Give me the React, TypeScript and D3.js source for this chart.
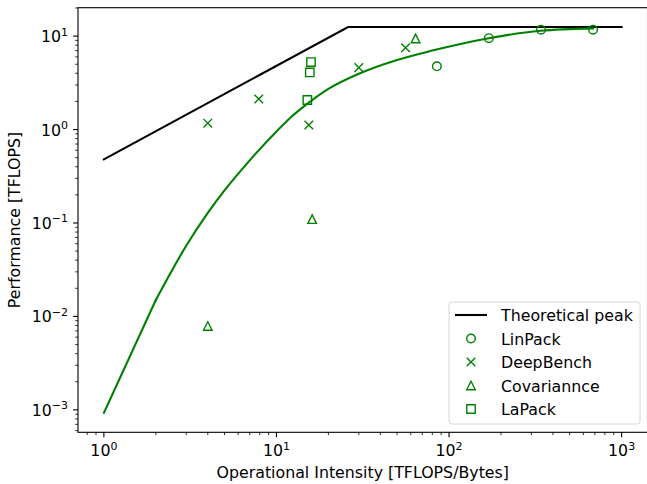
import { useEffect, useRef } from 'react';
import * as d3 from 'd3';

// roofline (theoretical peak)
const roofX = [1, 26, 1000];
const roofY = [0.48, 12.5, 12.5];

// fitted green curve
const curveX = [1, 2, 3, 4, 5, 7, 10, 12, 15, 20, 30, 50, 80, 170, 340, 683];
const curveY = [0.00093, 0.015, 0.057, 0.128, 0.223, 0.468, 0.955, 1.33, 1.87, 2.72, 3.95, 5.55, 7.0, 9.5, 11.4, 12.1];

const linpackX = [85, 170, 341, 683];
const linpackY = [4.75, 9.5, 11.7, 11.7];

const deepbenchX = [4, 7.9, 15.4, 30, 56];
const deepbenchY = [1.17, 2.12, 1.12, 4.6, 7.5];

const covarianceX = [4, 16.1, 64];
const covarianceY = [0.0079, 0.11, 9.45];

const lapackX = [15.85, 15.6, 15.1];
const lapackY = [5.27, 4.09, 2.07];

const legendLabels = ['Theoretical peak', 'LinPack', 'DeepBench', 'Covariannce', 'LaPack'];
const xTickValues = [1, 10, 100, 1000];
const yTickValues = [0.001, 0.01, 0.1, 1, 10];

const WIDTH = 647, HEIGHT = 484;
const margin = { left: 78, top: 7.7, right: 647.5, bottom: 432.3 };
const GREEN = '#008000';
const FONT = '"DejaVu Sans", sans-serif';
const FS = '15.8px';

function markerPath(kind: string, cx: number, cy: number) {
    const s = 4.3;
    if (kind === 'x') {
        return `M${cx - s},${cy - s}L${cx + s},${cy + s}M${cx - s},${cy + s}L${cx + s},${cy - s}`;
    }
    if (kind === '^') {
        return `M${cx},${cy - s}L${cx - s},${cy + s}L${cx + s},${cy + s}Z`;
    }
    if (kind === 's') {
        const h = 4.2;
        return `M${cx - h},${cy - h}H${cx + h}V${cy + h}H${cx - h}Z`;
    }
    return '';
}

function draw_markers(g, kind, xs, ys, x, y) {
    const pts = xs.map((v, i) => [x(v), y(ys[i])]);
    if (kind === 'o') {
        g.append('g').selectAll('circle').data(pts).enter().append('circle')
            .attr('cx', d => d[0]).attr('cy', d => d[1]).attr('r', 4.3)
            .attr('fill', 'none').attr('stroke', GREEN).attr('stroke-width', 1.4);
    } else {
        g.append('g').selectAll('path').data(pts).enter().append('path')
            .attr('d', d => markerPath(kind, d[0], d[1]))
            .attr('fill', 'none').attr('stroke', GREEN).attr('stroke-width', 1.4);
    }
}

function exponent(e: number) {
    return e < 0 ? '\u2212' + Math.abs(e) : String(e);
}

const renderChart = (node: SVGSVGElement) => {
    const svg = d3.select(node);
    svg.selectAll('*').remove();

    const x = d3.scaleLog().domain([Math.pow(10, -0.15), Math.pow(10, 3.15)]).range([margin.left, margin.right]);
    const y = d3.scaleLog().domain([Math.pow(10, -3.24), Math.pow(10, 1.304)]).range([margin.bottom, margin.top]);

    const line = d3.line<number>()
        .x(d => x(d[0])).y(d => y(d[1]));
    const smooth = d3.line<number>()
        .x(d => x(d[0])).y(d => y(d[1])).curve(d3.curveMonotoneX);

    // roofline
    svg.append('path')
        .attr('d', line(roofX.map((v, i) => [v, roofY[i]])))
        .attr('fill', 'none').attr('stroke', 'black').attr('stroke-width', 2.1)
        .attr('stroke-linecap', 'square');

    // curve: first sampled segment straight, the rest smooth
    const curvePts = curveX.map((v, i) => [v, curveY[i]]);
    const cg = svg.append('g').attr('fill', 'none').attr('stroke', GREEN).attr('stroke-width', 2.1)
        .attr('stroke-linecap', 'square').attr('stroke-linejoin', 'round');
    cg.append('path').attr('d', line(curvePts.slice(0, 2)));
    cg.append('path').attr('d', smooth(curvePts.slice(1)));

    const marks = svg.append('g');
    draw_markers(marks, 'o', linpackX, linpackY, x, y);
    draw_markers(marks, 'x', deepbenchX, deepbenchY, x, y);
    draw_markers(marks, '^', covarianceX, covarianceY, x, y);
    draw_markers(marks, 's', lapackX, lapackY, x, y);

    // spines
    svg.append('rect')
        .attr('x', margin.left).attr('y', margin.top)
        .attr('width', margin.right - margin.left).attr('height', margin.bottom - margin.top)
        .attr('fill', 'none').attr('stroke', 'black').attr('stroke-width', 1.1);

    // minor ticks
    const xMinor = [];
    for (let e = -1; e <= 3; e++) for (let m = 2; m <= 9; m++) {
        const v = m * Math.pow(10, e);
        if (v > x.domain()[0] && v < x.domain()[1]) xMinor.push(v);
    }
    const yMinor = [];
    for (let e = -4; e <= 1; e++) for (let m = 2; m <= 9; m++) {
        const v = m * Math.pow(10, e);
        if (v > y.domain()[0] && v < y.domain()[1]) yMinor.push(v);
    }
    const ticks = svg.append('g').attr('stroke', 'black').attr('stroke-width', 0.8);
    xMinor.forEach(v => ticks.append('line').attr('x1', x(v)).attr('x2', x(v)).attr('y1', margin.bottom).attr('y2', margin.bottom + 2.8));
    yMinor.forEach(v => ticks.append('line').attr('y1', y(v)).attr('y2', y(v)).attr('x1', margin.left).attr('x2', margin.left - 2.8));
    xTickValues.forEach(v => ticks.append('line').attr('x1', x(v)).attr('x2', x(v)).attr('y1', margin.bottom).attr('y2', margin.bottom + 4.9).attr('stroke-width', 1.1));
    yTickValues.forEach(v => ticks.append('line').attr('y1', y(v)).attr('y2', y(v)).attr('x1', margin.left).attr('x2', margin.left - 4.9).attr('stroke-width', 1.1));

    // tick labels
    xTickValues.forEach(v => {
        const t = svg.append('text').attr('x', x(v)).attr('y', 456)
            .attr('text-anchor', 'middle').style('font-family', FONT).style('font-size', FS);
        t.append('tspan').text('10');
        t.append('tspan').attr('dy', -6.5).style('font-size', '11px').text(exponent(Math.round(Math.log10(v))));
    });
    yTickValues.forEach(v => {
        const t = svg.append('text').attr('x', 68).attr('y', y(v) + 6)
            .attr('text-anchor', 'end').style('font-family', FONT).style('font-size', FS);
        t.append('tspan').text('10');
        t.append('tspan').attr('dy', -6.5).style('font-size', '11px').text(exponent(Math.round(Math.log10(v))));
    });

    // axis labels
    svg.append('text').attr('x', (margin.left + margin.right) / 2).attr('y', 478)
        .attr('text-anchor', 'middle').style('font-family', FONT).style('font-size', FS)
        .text('Operational Intensity [TFLOPS/Bytes]');
    svg.append('text').attr('transform', `translate(20,${(margin.top + margin.bottom) / 2}) rotate(-90)`)
        .attr('text-anchor', 'middle').style('font-family', FONT).style('font-size', FS)
        .text('Performance [TFLOPS]');

    // legend
    const lg = svg.append('g');
    lg.append('rect').attr('x', 449).attr('y', 302).attr('width', 191).attr('height', 122)
        .attr('rx', 3).attr('fill', 'white').attr('fill-opacity', 0.8)
        .attr('stroke', '#d6d6d6').attr('stroke-width', 1);
    const rowY = (i: number) => 315 + i * 23.5;
    lg.append('line').attr('x1', 455).attr('x2', 487).attr('y1', rowY(0)).attr('y2', rowY(0))
        .attr('stroke', 'black').attr('stroke-width', 2.1);
    ['o', 'x', '^', 's'].forEach((k, i) => {
        if (k === 'o') {
            lg.append('circle').attr('cx', 471).attr('cy', rowY(i + 1)).attr('r', 4.3)
                .attr('fill', 'none').attr('stroke', GREEN).attr('stroke-width', 1.4);
        } else {
            lg.append('path').attr('d', markerPath(k, 471, rowY(i + 1)))
                .attr('fill', 'none').attr('stroke', GREEN).attr('stroke-width', 1.4);
        }
    });
    legendLabels.forEach((label, i) => {
        lg.append('text').attr('x', 501).attr('y', rowY(i) + 6)
            .style('font-family', FONT).style('font-size', FS).text(label);
    });
};

const App = () => {
    const ref = useRef<SVGSVGElement>(null);
    useEffect(() => {
        if (ref.current) renderChart(ref.current);
    }, []);
    return (
        <svg ref={ref} width={WIDTH} height={HEIGHT}
            style={{ position: 'absolute', left: 0, top: 0, background: 'white' }} />
    );
};

export default App;
